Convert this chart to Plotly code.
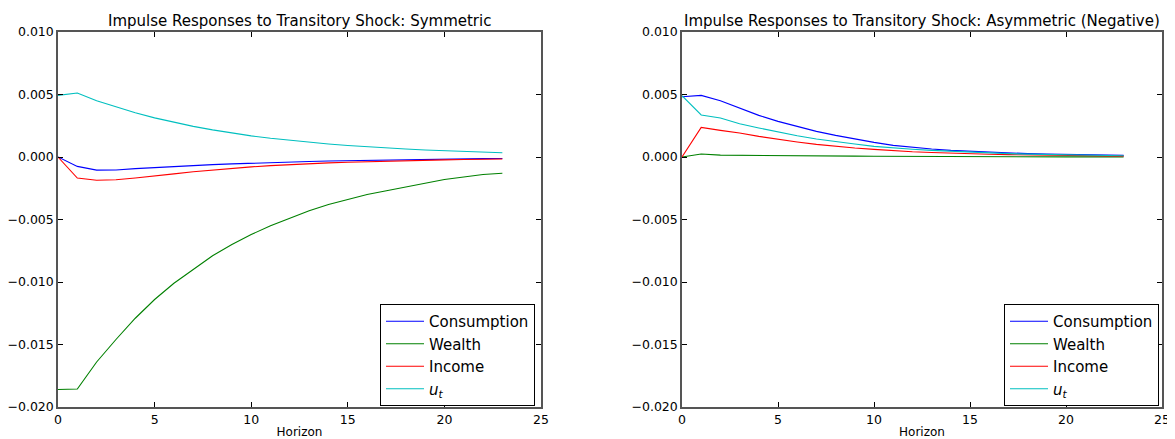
import plotly.graph_objects as go

horizon = list(range(24))

# Symmetric shock
sym_consumption = [0, -0.00075, -0.00105, -0.00104, -0.00093, -0.00084, -0.00075, -0.00068,
                   -0.00061, -0.00055, -0.00049, -0.00044, -0.00040, -0.00036, -0.00032, -0.00029,
                   -0.00026, -0.00023, -0.00021, -0.00019, -0.00017, -0.00015, -0.00013, -0.00012]
sym_wealth = [-0.0186, -0.01856, -0.0164, -0.0146, -0.0129, -0.0114, -0.0101, -0.0090,
              -0.0079, -0.0070, -0.0062, -0.0055, -0.0049, -0.0043, -0.0038, -0.0034,
              -0.0030, -0.0027, -0.0024, -0.0021, -0.0018, -0.0016, -0.0014, -0.0013]
sym_income = [0, -0.00168, -0.00186, -0.00182, -0.00168, -0.00154, -0.00135, -0.00118,
              -0.00103, -0.00090, -0.00079, -0.00069, -0.00060, -0.00053, -0.00047, -0.00042,
              -0.00037, -0.00033, -0.00029, -0.00026, -0.00023, -0.00020, -0.00018, -0.00016]
sym_u = [0.00493, 0.00512, 0.00450, 0.00400, 0.00354, 0.00313, 0.00277, 0.00245,
         0.00217, 0.00191, 0.00169, 0.00150, 0.00133, 0.00117, 0.00104, 0.00092,
         0.00081, 0.00072, 0.00064, 0.00056, 0.00050, 0.00044, 0.00039, 0.00034]

# Asymmetric (negative) shock
asy_consumption = [0.00482, 0.00493, 0.00450, 0.00390, 0.00333, 0.00285, 0.00245, 0.00205,
                   0.00173, 0.00144, 0.00117, 0.00093, 0.00077, 0.00064, 0.00053, 0.00045,
                   0.00038, 0.00032, 0.00027, 0.00023, 0.00020, 0.00017, 0.00015, 0.00013]
asy_wealth = [0, 0.00024, 0.00015, 0.00013, 0.00012, 0.00011, 0.00010, 0.00009,
              0.00008, 0.00007, 0.00006, 0.00005, 0.00005, 0.00004, 0.00004, 0.00003,
              0.00003, 0.00002, 0.00002, 0.00002, 0.00001, 0.00001, 0.00001, 0.00001]
asy_income = [0, 0.00237, 0.00213, 0.00192, 0.00165, 0.00141, 0.00120, 0.00101,
              0.00085, 0.00072, 0.00061, 0.00050, 0.00042, 0.00036, 0.00030, 0.00026,
              0.00022, 0.00019, 0.00016, 0.00013, 0.00011, 0.00010, 0.00008, 0.00007]
asy_u = [0.00490, 0.00336, 0.00312, 0.00266, 0.00232, 0.00200, 0.00170, 0.00144,
         0.00122, 0.00104, 0.00085, 0.00072, 0.00062, 0.00053, 0.00045, 0.00038,
         0.00032, 0.00027, 0.00023, 0.00020, 0.00017, 0.00014, 0.00012, 0.00010]

names = ["Consumption", "Wealth", "Income", "<i>u</i><sub><i>t</i></sub>"]
colors = ["#0000ff", "#008000", "#ff0000", "#00bfbf"]
titles = ["Impulse Responses to Transitory Shock: Symmetric",
          "Impulse Responses to Transitory Shock: Asymmetric (Negative)"]

FONT = "DejaVu Sans"
fig = go.Figure()

panels = [
    ("x", "y", "legend", [sym_consumption, sym_wealth, sym_income, sym_u]),
    ("x2", "y2", "legend2", [asy_consumption, asy_wealth, asy_income, asy_u]),
]
for xa, ya, lg, series in panels:
    for name, color, vals in zip(names, colors, series):
        fig.add_trace(go.Scatter(x=horizon, y=vals, mode="lines", name=name,
                                 line=dict(color=color, width=1.1),
                                 xaxis=xa, yaxis=ya, legend=lg))

# page body adds an 8px offset; figure is sized and positioned to compensate
OFF = 8
W, H = 1175 - OFF, 439 - OFF
ML, MR, MT, MB = 58 - OFF, 1175 - 1162, 32 - OFF, 439 - 407
PW, PH = W - ML - MR, H - MT - MB


def px(xp):
    return (xp - OFF - ML) / PW


def py(yp):
    return (H - MB - (yp - OFF)) / PH


dom_x1 = [0, px(541)]
dom_x2 = [px(682), 1]

axis_common = dict(showgrid=False, zeroline=False, showline=True, linecolor="#555555",
                   linewidth=1.5, mirror="allticks", ticks="inside", ticklen=5,
                   tickcolor="black", tickwidth=1, automargin=False,
                   tickfont=dict(family=FONT, size=12.5, color="black"))

legend_common = dict(xanchor="left", yanchor="top", bordercolor="black", borderwidth=1,
                     bgcolor="white", font=dict(family=FONT, size=15), tracegroupgap=0,
                     itemwidth=38)

fig.update_layout(
    width=W, height=H,
    margin=dict(l=ML, r=MR, t=MT, b=MB, autoexpand=False),
    paper_bgcolor="white", plot_bgcolor="white",
    font=dict(family=FONT, color="black"),
    showlegend=True,
    xaxis=dict(domain=dom_x1, range=[0, 25], dtick=5, anchor="y",
               title=dict(text="Horizon", font=dict(size=12), standoff=3), **axis_common),
    yaxis=dict(domain=[0, 1], range=[-0.02, 0.01], dtick=0.005, tickformat=".3f",
               anchor="x", **axis_common),
    xaxis2=dict(domain=dom_x2, range=[0, 25], dtick=5, anchor="y2",
                title=dict(text="Horizon", font=dict(size=12), standoff=3), **axis_common),
    yaxis2=dict(domain=[0, 1], range=[-0.02, 0.01], dtick=0.005, tickformat=".3f",
                anchor="x2", **axis_common),
    legend=dict(x=px(380), y=py(304), **legend_common),
    legend2=dict(x=px(1004), y=py(304), **legend_common),
    annotations=[
        dict(text=titles[0], x=(dom_x1[0] + dom_x1[1]) / 2, y=py(21), xref="paper",
             yref="paper", showarrow=False, font=dict(family=FONT, size=15),
             xanchor="center", yanchor="middle"),
        dict(text=titles[1], x=(dom_x2[0] + dom_x2[1]) / 2, y=py(21), xref="paper",
             yref="paper", showarrow=False, font=dict(family=FONT, size=15),
             xanchor="center", yanchor="middle"),
    ],
)

fig.write_html("out.html")
